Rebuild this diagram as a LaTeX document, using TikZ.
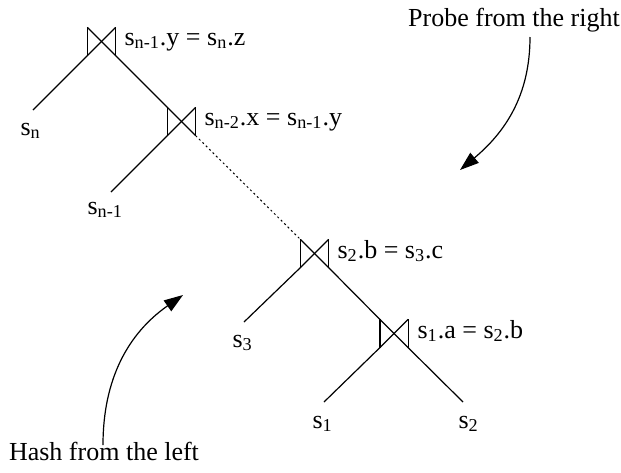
\documentclass[tikz,border=0pt]{standalone}
\usepackage{fontspec}
\setmainfont{Liberation Serif}
\usetikzlibrary{arrows.meta}
\begin{document}
\begin{tikzpicture}[x=0.5pt,y=-0.5pt,line width=0.6pt,
  font=\fontsize{13}{15}\selectfont,
  bowtie/.style={draw=none,rectangle,inner sep=0pt,minimum size=13.5pt,
    append after command={
      (\tikzlastnode.north west) edge[-] (\tikzlastnode.south west)
      (\tikzlastnode.north east) edge[-] (\tikzlastnode.south east)
      (\tikzlastnode.north west) edge[-] (\tikzlastnode.south east)
      (\tikzlastnode.south west) edge[-] (\tikzlastnode.north east)}},
  lbl/.style={inner sep=0pt,anchor=base west},
  edgeline/.style={draw},
  dots/.style={draw,line width=0.5pt,dash pattern=on 1pt off 1.4pt},
  curvearrow/.style={draw,-{Triangle[length=9.5pt,width=6.5pt]}}]
\useasboundingbox (0,0) rectangle (621,472);
% joins
\node[bowtie] (j1) at (101.5,41.5) {};
\node[bowtie] (j2) at (181.5,121.5) {};
\node[bowtie] (j3) at (314.5,253.5) {};
\node[bowtie] (j4) at (394,333.5) {};
% join labels
\node[lbl] (l1) at (124,45) {s\textsubscript{n-1}.y = s\textsubscript{n}.z};
\node[lbl] (l2) at (204,125) {s\textsubscript{n-2}.x = s\textsubscript{n-1}.y};
\node[lbl] (l3) at (337,258) {s\textsubscript{2}.b = s\textsubscript{3}.c};
\node[lbl] (l4) at (417,338) {s\textsubscript{1}.a = s\textsubscript{2}.b};
% leaf ends
\coordinate (en) at (33,110);
\coordinate (en1) at (111,192);
\coordinate (e3) at (244,322);
\coordinate (e1) at (324,402);
\coordinate (e2) at (463,402);
% leaf labels
\node[lbl] (sn) at (20,135) {s\textsubscript{n}};
\node[lbl] (sn1) at (87,214) {s\textsubscript{n-1}};
\node[lbl] (s3) at (232,347) {s\textsubscript{3}};
\node[lbl] (s1) at (312,428) {s\textsubscript{1}};
\node[lbl] (s2) at (458,428) {s\textsubscript{2}};
% connectors
\draw[edgeline] (j1.south west) -- (en);
\draw[edgeline] (j1.south east) -- (j2.north west);
\draw[edgeline] (j2.south west) -- (en1);
\draw[dots] (j2.south east) -- (j3.north west);
\draw[edgeline] (j3.south west) -- (e3);
\draw[edgeline] (j3.south east) -- (j4.north west);
\draw[edgeline] (j4.south west) -- (e1);
\draw[edgeline] (j4.south east) -- (e2);
% annotations
\node[inner sep=0pt,anchor=base] (probe) at (514,26) {Probe from the right};
\node[inner sep=0pt,anchor=base] (hash) at (104,460) {Hash from the left};
\coordinate (ps) at (530,37);
\coordinate (pt) at (460,170);
\coordinate (hs) at (103,445);
\coordinate (ht) at (183,295);
\draw[curvearrow] (ps) to[out=-90,in=40] (pt);
\draw[curvearrow] (hs) to[out=90,in=215] (ht);
\end{tikzpicture}
\end{document}
